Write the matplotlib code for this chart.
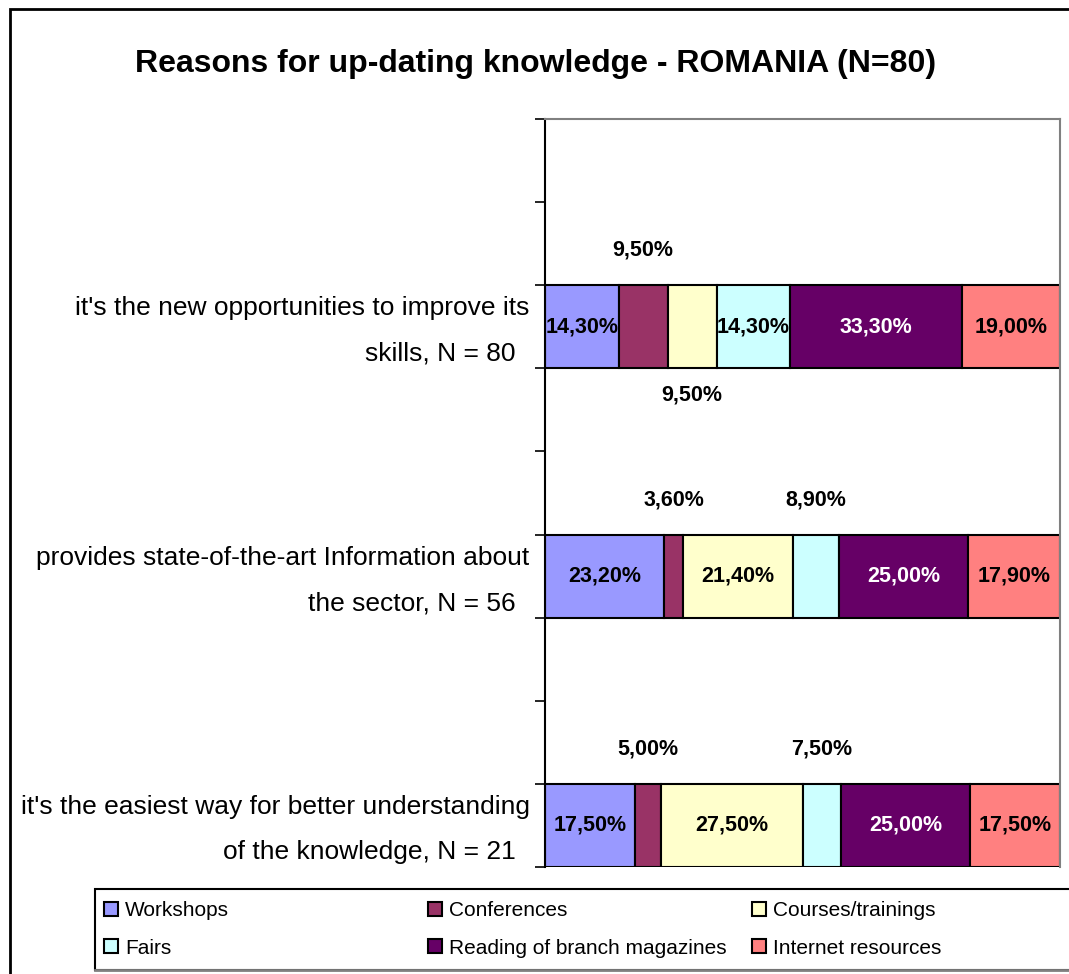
import matplotlib
matplotlib.use("Agg")
import matplotlib.pyplot as plt
from matplotlib.patches import Rectangle, Patch

plt.rcParams['font.family'] = ['Liberation Sans', 'DejaVu Sans']

W, H = 1069, 974

# Data
title = "Reasons for up-dating knowledge - ROMANIA (N=80)"
reasons = [
    ["it's the new opportunities to improve its", "skills, N = 80"],
    ["provides state-of-the-art Information about", "the sector, N = 56"],
    ["it's the easiest way for better understanding", "of the knowledge, N = 21"],
]
series = ["Workshops", "Conferences", "Courses/trainings", "Fairs",
          "Reading of branch magazines", "Internet resources"]
workshops = [14.3, 23.2, 17.5]
conferences = [9.5, 3.6, 5.0]
courses = [9.5, 21.4, 27.5]
fairs = [14.3, 8.9, 7.5]
reading = [33.3, 25.0, 25.0]
internet = [19.0, 17.9, 17.5]
values = [workshops, conferences, courses, fairs, reading, internet]

colors = ["#9999FF", "#993366", "#FFFFCC", "#CCFFFF", "#660066", "#FF8080"]
text_colors = ["black", "black", "black", "black", "white", "black"]

fig = plt.figure(figsize=(W / 100, H / 100), dpi=100)

# outer chart border (right/bottom edges fall outside the picture)
top = 1 - 9 / H
fig.patches.append(Rectangle((10 / W, -0.1), 1.2, top + 0.1,
                             transform=fig.transFigure, fill=False,
                             edgecolor="black", linewidth=2))

fig.text(536 / W, 1 - 64 / H, title, ha="center", va="center",
         fontsize=23, fontweight="bold")

ax = fig.add_axes([545 / W, 1 - 867 / H, (1060 - 545) / W, (867 - 119) / H])
n_slots = 3 * len(reasons)
ax.set_xlim(0, 100)
ax.set_ylim(n_slots, 0)
ax.set_yticks(range(n_slots + 1))
ax.set_yticklabels([])
ax.set_xticks([])
ax.tick_params(axis="y", direction="out", length=7, width=1.2, color="black")
ax.spines["left"].set_linewidth(1.5)
for side in ["top", "right"]:
    ax.spines[side].set_color("#808080")
    ax.spines[side].set_linewidth(1.5)
ax.spines["bottom"].set_visible(False)

centers = [3 * i + 2.5 for i in range(len(reasons))]

for i, yc in enumerate(centers):
    row = [v[i] for v in values]
    total = sum(row)
    left = 0
    prev_above = False
    for j, v in enumerate(row):
        w = v / total * 100
        ax.barh(yc, w, left=left, height=1.0, color=colors[j],
                edgecolor="black", linewidth=1.5)
        label = f"{v:.2f}%".replace(".", ",")
        xc = left + w / 2
        if v >= 10:
            ax.text(xc, yc, label, ha="center", va="center", fontsize=15.5,
                    fontweight="bold", color=text_colors[j])
            prev_above = False
        else:
            # small segments: label above the bar, or below if the
            # neighbour's label already sits above
            if prev_above:
                ax.text(xc, yc + 0.82, label, ha="center", va="center",
                        fontsize=15.5, fontweight="bold")
                prev_above = False
            else:
                ax.text(xc, yc - 0.92, label, ha="center", va="center",
                        fontsize=15.5, fontweight="bold")
                prev_above = True
        left += w

    line1, line2 = reasons[i]
    ax.annotate(line1, xy=(0, yc - 0.22), xycoords=("axes fraction", "data"),
                xytext=(-11, 0), textcoords="offset points",
                ha="right", va="center", fontsize=19)
    ax.annotate(line2, xy=(0, yc + 0.325), xycoords=("axes fraction", "data"),
                xytext=(-21, 0), textcoords="offset points",
                ha="right", va="center", fontsize=19)

# Legend: frame plus three equal-width columns, filled row by row
fig.patches.append(Rectangle((95 / W, 1 - 970 / H), (1080 - 95) / W, (970 - 889) / H,
                             transform=fig.transFigure, facecolor="white",
                             edgecolor="black", linewidth=1.5))
fig.lines.append(plt.Line2D([95 / W, 1.01], [1 - 970 / H] * 2,
                            transform=fig.transFigure, color="#808080",
                            linewidth=2))
handles = [Patch(facecolor=c, edgecolor="black", linewidth=1.5) for c in colors]
col_x = [104, 428, 752]
for k, x in enumerate(col_x):
    idx = [k, k + 3]
    fig.legend([handles[n] for n in idx], [series[n] for n in idx],
               loc="upper left", bbox_to_anchor=(x / W, 1 - 901 / H),
               frameon=False, borderpad=0, borderaxespad=0,
               handlelength=0.65, handleheight=0.65, handletextpad=0.35,
               labelspacing=0.9, fontsize=15)

fig.savefig("out.png", dpi=100)
